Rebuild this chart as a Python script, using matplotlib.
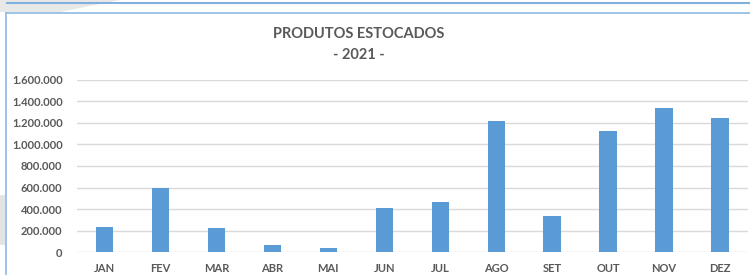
import matplotlib.pyplot as plt
from matplotlib.lines import Line2D
from matplotlib.patches import Polygon
from matplotlib.ticker import FuncFormatter

# Monthly stock values
meses = ["JAN", "FEV", "MAR", "ABR", "MAI", "JUN",
         "JUL", "AGO", "SET", "OUT", "NOV", "DEZ"]
estoque = [237000, 593000, 225000, 65000, 43000, 411000,
           463000, 1214000, 336000, 1122000, 1335000, 1248000]
y_ticks = [0, 200000, 400000, 600000, 800000, 1000000,
           1200000, 1400000, 1600000]

W, H = 750, 275
fig = plt.figure(figsize=(W / 100, H / 100), dpi=100)
plt.rcParams['font.family'] = ['Lato', 'DejaVu Sans']

# background decorations: grey wedges and the blue frame lines
fig.patches.append(Polygon([(0, 1), (120 / W, 1), (60 / W, 1 - 12 / H), (0, 1 - 12 / H)],
                           closed=True, transform=fig.transFigure,
                           facecolor="#e8e8e8", edgecolor="none", zorder=0))
fig.patches.append(Polygon([(0, 1 - 195 / H), (5 / W, 1 - 195 / H),
                            (5 / W, 1 - 245 / H), (0, 1 - 245 / H)],
                           closed=True, transform=fig.transFigure,
                           facecolor="#e3e3e3", edgecolor="none", zorder=0))
fig.lines.append(Line2D([7 / W, 1], [1 - 3 / H, 1 - 3 / H], transform=fig.transFigure,
                        color="#7fb0de", lw=1.5))
fig.lines.append(Line2D([6 / W, 1], [1 - 12.5 / H, 1 - 12.5 / H], transform=fig.transFigure,
                        color="#8db9e2", lw=1.2))
fig.lines.append(Line2D([6 / W, 6 / W], [0, 1 - 12.5 / H], transform=fig.transFigure,
                        color="#8db9e2", lw=1.2))

ax = fig.add_axes([76.5 / W, 22.7 / H, (748 - 76.5) / W, (252.3 - 79.7) / H])
ax.bar(range(len(meses)), estoque, width=0.31, color="#5b9bd5", zorder=3)

ax.set_ylim(0, 1600000)
ax.set_xlim(-0.5, len(meses) - 0.5)
ax.set_yticks(y_ticks)
ax.yaxis.set_major_formatter(FuncFormatter(lambda v, p: f"{int(v):,}".replace(",", ".")))
ax.set_xticks(range(len(meses)))
ax.set_xticklabels(meses)
ax.grid(axis="y", color="#d9d9d9", lw=1.0, zorder=0)
for s in ax.spines.values():
    s.set_visible(False)
ax.tick_params(axis="both", length=0, colors="#595959", labelsize=8)
ax.tick_params(axis="y", pad=10)
ax.tick_params(axis="x", pad=8)
for lbl in ax.get_xticklabels() + ax.get_yticklabels():
    lbl.set_fontweight("bold")

fig.text(359 / W, 1 - 34 / H, "PRODUTOS ESTOCADOS", ha="center", va="center",
         fontsize=10.5, fontweight="bold", color="#595959")
fig.text(359 / W, 1 - 54.5 / H, "- 2021 -", ha="center", va="center",
         fontsize=10.5, fontweight="bold", color="#595959")

fig.savefig("out.png", dpi=100, facecolor="white")
